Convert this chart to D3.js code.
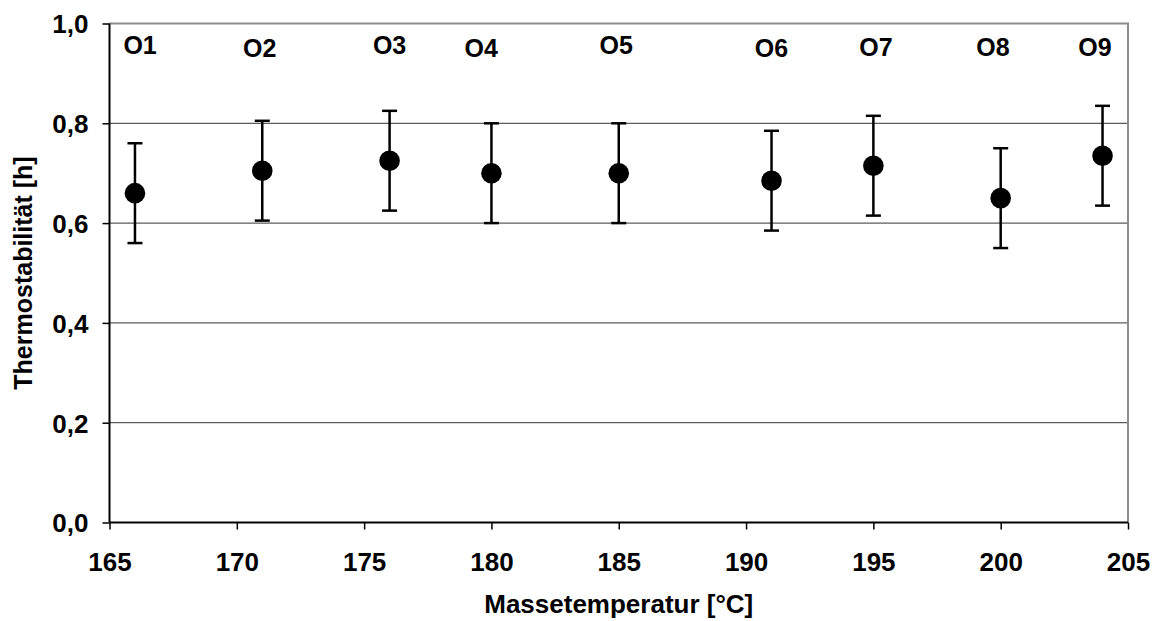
<!DOCTYPE html>
<html>
<head>
<meta charset="utf-8">
<script src="https://cdn.jsdelivr.net/npm/d3@7"></script>
<style>
  html, body { margin: 0; padding: 0; background: #fff; }
  svg { display: block; }
  text { font-family: "Liberation Sans", Arial, sans-serif; font-weight: bold; fill: #000; }
</style>
</head>
<body>
<script>
// Oven samples O1–O9: melt temperature vs. thermal stability
const samples = ["O1", "O2", "O3", "O4", "O5", "O6", "O7", "O8", "O9"];
const temperature = [166, 171, 176, 180, 185, 191, 195, 200, 204];
const stability = [0.66, 0.705, 0.725, 0.70, 0.70, 0.685, 0.715, 0.65, 0.735];
const errorHalf = [0.10, 0.10, 0.10, 0.10, 0.10, 0.10, 0.10, 0.10, 0.10];
// label anchors in data units (temperature, hours)
const labelTemp = [166.2, 170.9, 176.0, 179.6, 184.9, 191.0, 195.1, 199.7, 203.7];
const labelVal = [0.956, 0.950, 0.956, 0.950, 0.956, 0.950, 0.952, 0.952, 0.952];
const xTicks = [165, 170, 175, 180, 185, 190, 195, 200, 205];
const yTicks = [0, 0.2, 0.4, 0.6, 0.8, 1.0];

const W = 1152, H = 621;
const m = { left: 109.5, right: 1128, top: 23.5, bottom: 522.5 };
const FONT = "Liberation Sans, Arial, sans-serif";

const svg = d3.select("body").append("svg").attr("width", W).attr("height", H);

const x = d3.scaleLinear().domain([165, 205]).range([m.left, m.right]);
const y = d3.scaleLinear().domain([0, 1]).range([m.bottom, m.top]);
const fmt = d => d3.format(".1f")(d).replace(".", ",");

// horizontal gridlines
svg.append("g").selectAll("line")
  .data(yTicks.filter(v => v > 0 && v < 1))
  .join("line")
  .attr("x1", m.left).attr("x2", m.right)
  .attr("y1", d => y(d)).attr("y2", d => y(d))
  .attr("stroke", "#333").attr("stroke-width", 1);

// plot frame top and right (grey)
svg.append("path")
  .attr("d", `M${m.left},${m.top}H${m.right}V${m.bottom}`)
  .attr("fill", "none").attr("stroke", "#8c8c8c").attr("stroke-width", 2);

// y axis
const yAxis = svg.append("g")
  .attr("transform", `translate(${m.left},0)`)
  .call(d3.axisLeft(y).tickValues(yTicks).tickFormat(fmt).tickSize(7).tickPadding(14));
yAxis.select(".domain").attr("stroke", "#000").attr("stroke-width", 2).attr("d", `M0,${m.top}V${m.bottom}`);
yAxis.selectAll(".tick line").attr("stroke", "#000").attr("stroke-width", 1.5);
yAxis.selectAll(".tick text")
  .style("font-family", FONT)
  .style("font-weight", "bold").style("font-size", "26px").attr("dy", "0.36em");

// x axis
const xAxis = svg.append("g")
  .attr("transform", `translate(0,${m.bottom})`)
  .call(d3.axisBottom(x).tickValues(xTicks).tickFormat(d3.format("d")).tickSize(7).tickPadding(23));
xAxis.select(".domain").attr("stroke", "#000").attr("stroke-width", 2).attr("d", `M${m.left},0H${m.right}`);
xAxis.selectAll(".tick line").attr("stroke", "#000").attr("stroke-width", 1.5);
xAxis.selectAll(".tick text")
  .style("font-family", FONT)
  .style("font-weight", "bold").style("font-size", "26px");

// error bars
const pts = samples.map((s, i) => ({ s, t: temperature[i], v: stability[i], e: errorHalf[i] }));
const eb = svg.append("g").selectAll("g").data(pts).join("g");
eb.append("line")
  .attr("x1", d => x(d.t)).attr("x2", d => x(d.t))
  .attr("y1", d => y(d.v - d.e)).attr("y2", d => y(d.v + d.e))
  .attr("stroke", "#000").attr("stroke-width", 2.5);
eb.selectAll(".cap").data(d => [[d.t, d.v - d.e], [d.t, d.v + d.e]]).join("line")
  .attr("x1", d => x(d[0]) - 7.5).attr("x2", d => x(d[0]) + 7.5)
  .attr("y1", d => y(d[1])).attr("y2", d => y(d[1]))
  .attr("stroke", "#000").attr("stroke-width", 2.5);

// markers
svg.append("g").selectAll("circle").data(pts).join("circle")
  .attr("cx", d => x(d.t)).attr("cy", d => y(d.v)).attr("r", 10.3)
  .attr("fill", "#000");

// sample labels
svg.append("g").selectAll("text").data(samples).join("text")
  .attr("x", (d, i) => x(labelTemp[i])).attr("y", (d, i) => y(labelVal[i]))
  .attr("text-anchor", "middle").attr("dy", "0.36em")
  .style("font-size", "25px")
  .text(d => d);

// axis titles
svg.append("text")
  .attr("x", (m.left + m.right) / 2).attr("y", 613)
  .attr("text-anchor", "middle").style("font-size", "26px")
  .text("Massetemperatur [°C]");
svg.append("text")
  .attr("transform", `translate(32,${(m.top + m.bottom) / 2}) rotate(-90)`)
  .attr("text-anchor", "middle").style("font-size", "25px")
  .text("Thermostabilität [h]");
</script>
</body>
</html>
